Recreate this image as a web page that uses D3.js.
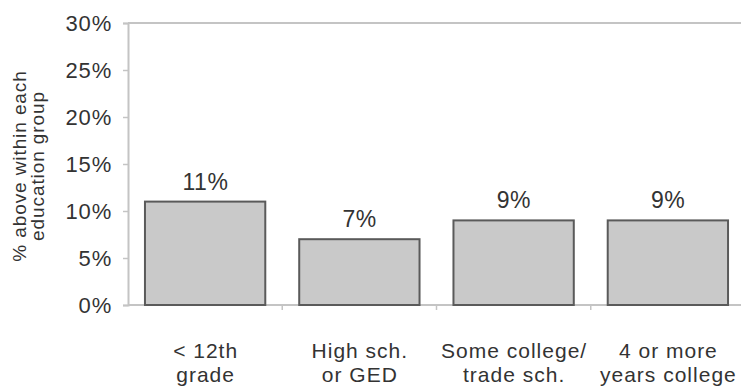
<!DOCTYPE html>
<html>
<head>
<meta charset="utf-8">
<script src="https://cdn.jsdelivr.net/npm/d3@7"></script>
<style>
  html, body { margin: 0; padding: 0; background: #fff; }
  svg { display: block; }
  text { font-family: "Liberation Sans", Arial, sans-serif; fill: #333; }
</style>
</head>
<body>
<svg id="chart" width="741" height="387"></svg>
<script>
// Share of each education group above the threshold
const categories = ["< 12th grade", "High sch. or GED", "Some college/ trade sch.", "4 or more years college"];
const categoryLines = [["< 12th", "grade"], ["High sch.", "or GED"], ["Some college/", "trade sch."], ["4 or more", "years college"]];
const values = [11, 7, 9, 9];
const yTicks = [0, 5, 10, 15, 20, 25, 30];
const yTitleLines = ["% above within each", "education group"];

const svg = d3.select("#chart");
const plotLeft = 128, plotRight = 745, plotTop = 23, plotBottom = 305;
const axisGrey = "#c4c4c4";

const x = d3.scaleBand().domain(categories).range([plotLeft, plotRight]).paddingInner(0.22).paddingOuter(0.11);
const y = d3.scaleLinear().domain([0, 30]).range([plotBottom, plotTop]);

// top frame line
svg.append("line")
  .attr("x1", plotLeft).attr("x2", 741).attr("y1", y(30)).attr("y2", y(30))
  .attr("stroke", axisGrey).attr("stroke-width", 2);

// y axis
const yAxis = svg.append("g").attr("transform", `translate(${plotLeft},0)`)
  .call(d3.axisLeft(y).tickValues(yTicks).tickSize(5).tickPadding(11).tickFormat(d => d + "%"));
yAxis.select(".domain").attr("stroke", axisGrey).attr("stroke-width", 2);
yAxis.selectAll(".tick line").attr("stroke", axisGrey).attr("stroke-width", 1.5);
yAxis.selectAll(".tick text").attr("font-size", 22).attr("fill", "#333")
  .attr("font-family", "Liberation Sans, Arial, sans-serif").attr("letter-spacing", 0.8);

// x axis with ticks between categories
const boundaries = categories.map(c => x(c) - x.step() * x.paddingInner() / 2);
svg.append("line")
  .attr("x1", plotLeft).attr("x2", 741).attr("y1", plotBottom).attr("y2", plotBottom)
  .attr("stroke", axisGrey).attr("stroke-width", 2);
svg.selectAll(".xtick").data(boundaries.slice(1)).join("line")
  .attr("class", "xtick")
  .attr("x1", d => d).attr("x2", d => d).attr("y1", plotBottom).attr("y2", plotBottom + 5)
  .attr("stroke", axisGrey).attr("stroke-width", 1.5);

// bars
svg.selectAll(".bar").data(values).join("rect")
  .attr("class", "bar")
  .attr("x", (d, i) => x(categories[i]))
  .attr("y", d => y(d))
  .attr("width", x.bandwidth())
  .attr("height", d => y(0) - y(d))
  .attr("fill", "#c9c9c9").attr("stroke", "#5a5a5a").attr("stroke-width", 2);

// value labels
svg.selectAll(".val").data(values).join("text")
  .attr("class", "val")
  .attr("x", (d, i) => x(categories[i]) + x.bandwidth() / 2 + 0.3)
  .attr("y", d => y(d) - 12)
  .attr("text-anchor", "middle").attr("font-size", 23).attr("letter-spacing", 0.5)
  .text(d => d + "%");

// category labels
categoryLines.forEach((lines, i) => {
  const cx = x(categories[i]) + x.bandwidth() / 2 + 0.5;
  lines.forEach((t, j) => {
    svg.append("text")
      .attr("x", cx).attr("y", 358 + j * 24)
      .attr("text-anchor", "middle").attr("font-size", 21).attr("letter-spacing", 1.0)
      .text(t);
  });
});

// y axis title
yTitleLines.forEach((t, j) => {
  svg.append("text")
    .attr("transform", `translate(${25.5 + j * 18},166) rotate(-90)`)
    .attr("text-anchor", "middle").attr("font-size", 19).attr("letter-spacing", 0.9)
    .text(t);
});
</script>
</body>
</html>
